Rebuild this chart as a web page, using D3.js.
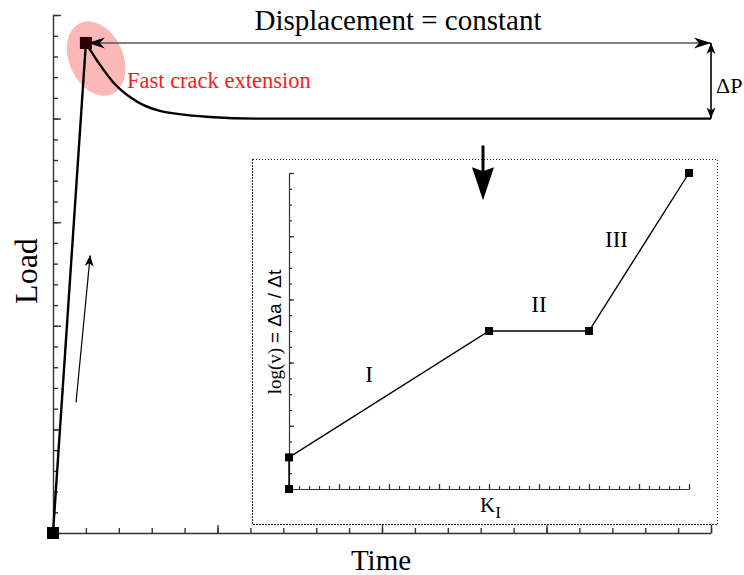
<!DOCTYPE html>
<meta charset="utf-8">
<script src="https://d3js.org/d3.v7.min.js"></script>
<style>
  body { margin: 0; background: #fff; }
  svg text { font-family: "Liberation Serif", "Times New Roman", serif; }
</style>
<div id="chart"></div>
<script>
    // main load-time curve (arbitrary units)
    const loadX = [0, 1.0];
    const loadY = [0, 23.65];
    const relaxX = [1.0, 1.43, 1.82, 2.34, 3.25, 4.77, 6.29, 8, 20];
    const relaxY = [23.65, 22.59, 21.77, 21.04, 20.37, 20.08, 20.0, 20, 20];

    // inset: crack velocity vs K_I
    const kX = [0, 0, 4, 6, 8];
    const vY = [0, 2, 10, 10, 20];
    const stageLabels = ["I", "II", "III"];
    const stageX = [1.6, 5, 6.55];
    const stageY = [6.8, 11.2, 15.3];

    const width = 744, height = 575;

    const svg = d3.select("#chart")
      .append("svg")
        .attr("width", width)
        .attr("height", height)
        .attr("font-family", "'Liberation Serif', 'Times New Roman', serif");

    const defs = svg.append("defs");
    // concave arrow heads
    defs.append("marker")
        .attr("id", "stealth")
        .attr("viewBox", "-18 -6 20 12")
        .attr("refX", 0).attr("refY", 0)
        .attr("markerWidth", 20).attr("markerHeight", 12)
        .attr("markerUnits", "userSpaceOnUse")
        .attr("orient", "auto-start-reverse")
      .append("path")
        .attr("d", "M0,0 L-17,-5.5 L-12,0 L-17,5.5 Z")
        .attr("fill", "#000");
    defs.append("marker")
        .attr("id", "stealthSmall")
        .attr("viewBox", "-12 -5 14 10")
        .attr("refX", 0).attr("refY", 0)
        .attr("markerWidth", 14).attr("markerHeight", 10)
        .attr("markerUnits", "userSpaceOnUse")
        .attr("orient", "auto-start-reverse")
      .append("path")
        .attr("d", "M0,0 L-11,-4.5 L-8,0 L-11,4.5 Z")
        .attr("fill", "#000");

    //  main axes
    const x = d3.scaleLinear().domain([0, 20]).range([53, 711]);
    const y = d3.scaleLinear().domain([0, 25]).range([533, 15]);

    function drawAxes(g, xs, ys, xMinor, xMajor, yMinor, yMajor, minorLen, majorLen, sw) {
        const ax = g.append("g").attr("transform", `translate(0,${ys.range()[0]})`);
        ax.call(d3.axisTop(xs).tickValues(xMinor).tickSize(minorLen).tickSizeOuter(0).tickFormat(""));
        ax.append("g").call(d3.axisTop(xs).tickValues(xMajor).tickSize(majorLen).tickSizeOuter(0).tickFormat(""))
          .select(".domain").remove();
        const ay = g.append("g").attr("transform", `translate(${xs.range()[0]},0)`);
        ay.call(d3.axisRight(ys).tickValues(yMinor).tickSize(minorLen).tickSizeOuter(0).tickFormat(""));
        ay.append("g").call(d3.axisRight(ys).tickValues(yMajor).tickSize(majorLen).tickSizeOuter(0).tickFormat(""))
          .select(".domain").remove();
        g.selectAll("path.domain, line").attr("stroke", "#333").attr("stroke-width", sw);
    }

    drawAxes(svg.append("g"), x, y,
        d3.range(0, 21, 1), d3.range(0, 21, 5),
        d3.range(0, 26, 1), d3.range(0, 26, 5), 5, 8, 1.4);

    // inset frame
    svg.append("rect")
        .attr("x", 252.5).attr("y", 159.5)
        .attr("width", 465).attr("height", 365)
        .attr("fill", "none")
        .attr("stroke", "#222")
        .attr("stroke-width", 1)
        .attr("stroke-dasharray", "1.5,1.5")
        .attr("shape-rendering", "crispEdges");

    // fast crack extension highlight
    svg.append("ellipse")
        .attr("cx", x(1.31)).attr("cy", y(22.9))
        .attr("rx", 27).attr("ry", 39)
        .attr("transform", `rotate(-24,${x(1.31)},${y(22.9)})`)
        .attr("fill", "#fbb8b8");

    const line = d3.line().x(d => x(d[0])).y(d => y(d[1]));

    svg.append("path")
        .datum(d3.zip(loadX, loadY))
        .attr("d", line)
        .attr("fill", "none")
        .attr("stroke", "#000")
        .attr("stroke-width", 2.4);

    svg.append("path")
        .datum(d3.zip(relaxX, relaxY))
        .attr("d", d3.line().x(d => x(d[0])).y(d => y(d[1])).curve(d3.curveMonotoneX))
        .attr("fill", "none")
        .attr("stroke", "#000")
        .attr("stroke-width", 2.4);

    // displacement arrow
    svg.append("line")
        .attr("x1", x(1.06)).attr("y1", y(loadY[1]))
        .attr("x2", x(20)).attr("y2", y(loadY[1]))
        .attr("stroke", "#555").attr("stroke-width", 1.6)
        .attr("marker-start", "url(#stealth)")
        .attr("marker-end", "url(#stealth)");

    // delta P arrow
    svg.append("line")
        .attr("x1", x(20)).attr("y1", y(loadY[1]))
        .attr("x2", x(20)).attr("y2", y(20))
        .attr("stroke", "#000").attr("stroke-width", 1.6)
        .attr("marker-start", "url(#stealthSmall)")
        .attr("marker-end", "url(#stealthSmall)");

    // loading direction arrow
    svg.append("line")
        .attr("x1", x(0.7)).attr("y1", y(6.3))
        .attr("x2", x(1.13)).attr("y2", y(13.4))
        .attr("stroke", "#000").attr("stroke-width", 1.2)
        .attr("marker-end", "url(#stealthSmall)");

    // arrow down into inset
    svg.append("line")
        .attr("x1", x(13.07)).attr("y1", y(18.7))
        .attr("x2", x(13.07)).attr("y2", y(17.3))
        .attr("stroke", "#000").attr("stroke-width", 3);
    svg.append("path")
        .attr("d", `M${x(13.07)},${y(16.06)} L${x(13.07) - 11},${y(16.06) - 33} L${x(13.07)},${y(16.06) - 29} L${x(13.07) + 11},${y(16.06) - 33} Z`)
        .attr("fill", "#000");

    // points
    svg.append("rect")
        .attr("x", x(0) - 6).attr("y", y(0) - 6)
        .attr("width", 12).attr("height", 12)
        .attr("fill", "#000");
    svg.append("rect")
        .attr("x", x(loadX[1]) - 6).attr("y", y(loadY[1]) - 6)
        .attr("width", 12).attr("height", 12)
        .attr("fill", "#2a0000");

    // main labels
    svg.append("text")
        .attr("x", 398).attr("y", 30)
        .attr("text-anchor", "middle")
        .attr("font-size", 29)
        .text("Displacement = constant");
    svg.append("text")
        .attr("x", 127).attr("y", 88)
        .attr("font-size", 22.5)
        .attr("fill", "#ff1a1a")
        .text("Fast crack extension");
    svg.append("text")
        .attr("x", 716).attr("y", 93)
        .attr("font-size", 22)
        .text("ΔP");
    svg.append("text")
        .attr("transform", "translate(37,271) rotate(-90)")
        .attr("text-anchor", "middle")
        .attr("font-size", 32)
        .text("Load");
    svg.append("text")
        .attr("x", 381).attr("y", 570)
        .attr("text-anchor", "middle")
        .attr("font-size", 29)
        .text("Time");

    // inset
    const ix = d3.scaleLinear().domain([0, 8]).range([289, 689]);
    const iy = d3.scaleLinear().domain([0, 20]).range([489, 173]);
    const inset = svg.append("g");
    drawAxes(inset, ix, iy,
        d3.range(0, 8.01, 0.2), d3.range(0, 8.01, 1),
        d3.range(0, 21, 1), d3.range(0, 21, 4), 3, 5, 1.2);

    inset.append("path")
        .datum(d3.zip(kX, vY))
        .attr("d", d3.line().x(d => ix(d[0])).y(d => iy(d[1])))
        .attr("fill", "none")
        .attr("stroke", "#000")
        .attr("stroke-width", 1.4);

    inset.selectAll("rect.pt")
        .data(d3.zip(kX, vY))
        .join("rect")
          .attr("class", "pt")
          .attr("x", d => ix(d[0]) - 4)
          .attr("y", d => iy(d[1]) - 4)
          .attr("width", 8).attr("height", 8)
          .attr("fill", "#000");

    inset.selectAll("text.stage")
        .data(stageLabels)
        .join("text")
          .attr("class", "stage")
          .attr("x", (d, i) => ix(stageX[i]))
          .attr("y", (d, i) => iy(stageY[i]))
          .attr("text-anchor", "middle")
          .attr("font-size", 23)
          .text(d => d);

    const kl = inset.append("text")
        .attr("x", 480).attr("y", 512)
        .attr("font-size", 21);
    kl.append("tspan").text("K");
    kl.append("tspan").attr("dy", 6).attr("font-size", 17).text("I");

    const yl = inset.append("text")
        .attr("transform", "translate(281,332) rotate(-90)")
        .attr("text-anchor", "middle")
        .attr("font-size", 19);
    yl.append("tspan").text("log(v) ");
    yl.append("tspan").style("font-family", "'Liberation Sans', Arial, sans-serif").text("= Δa / Δt");
</script>
